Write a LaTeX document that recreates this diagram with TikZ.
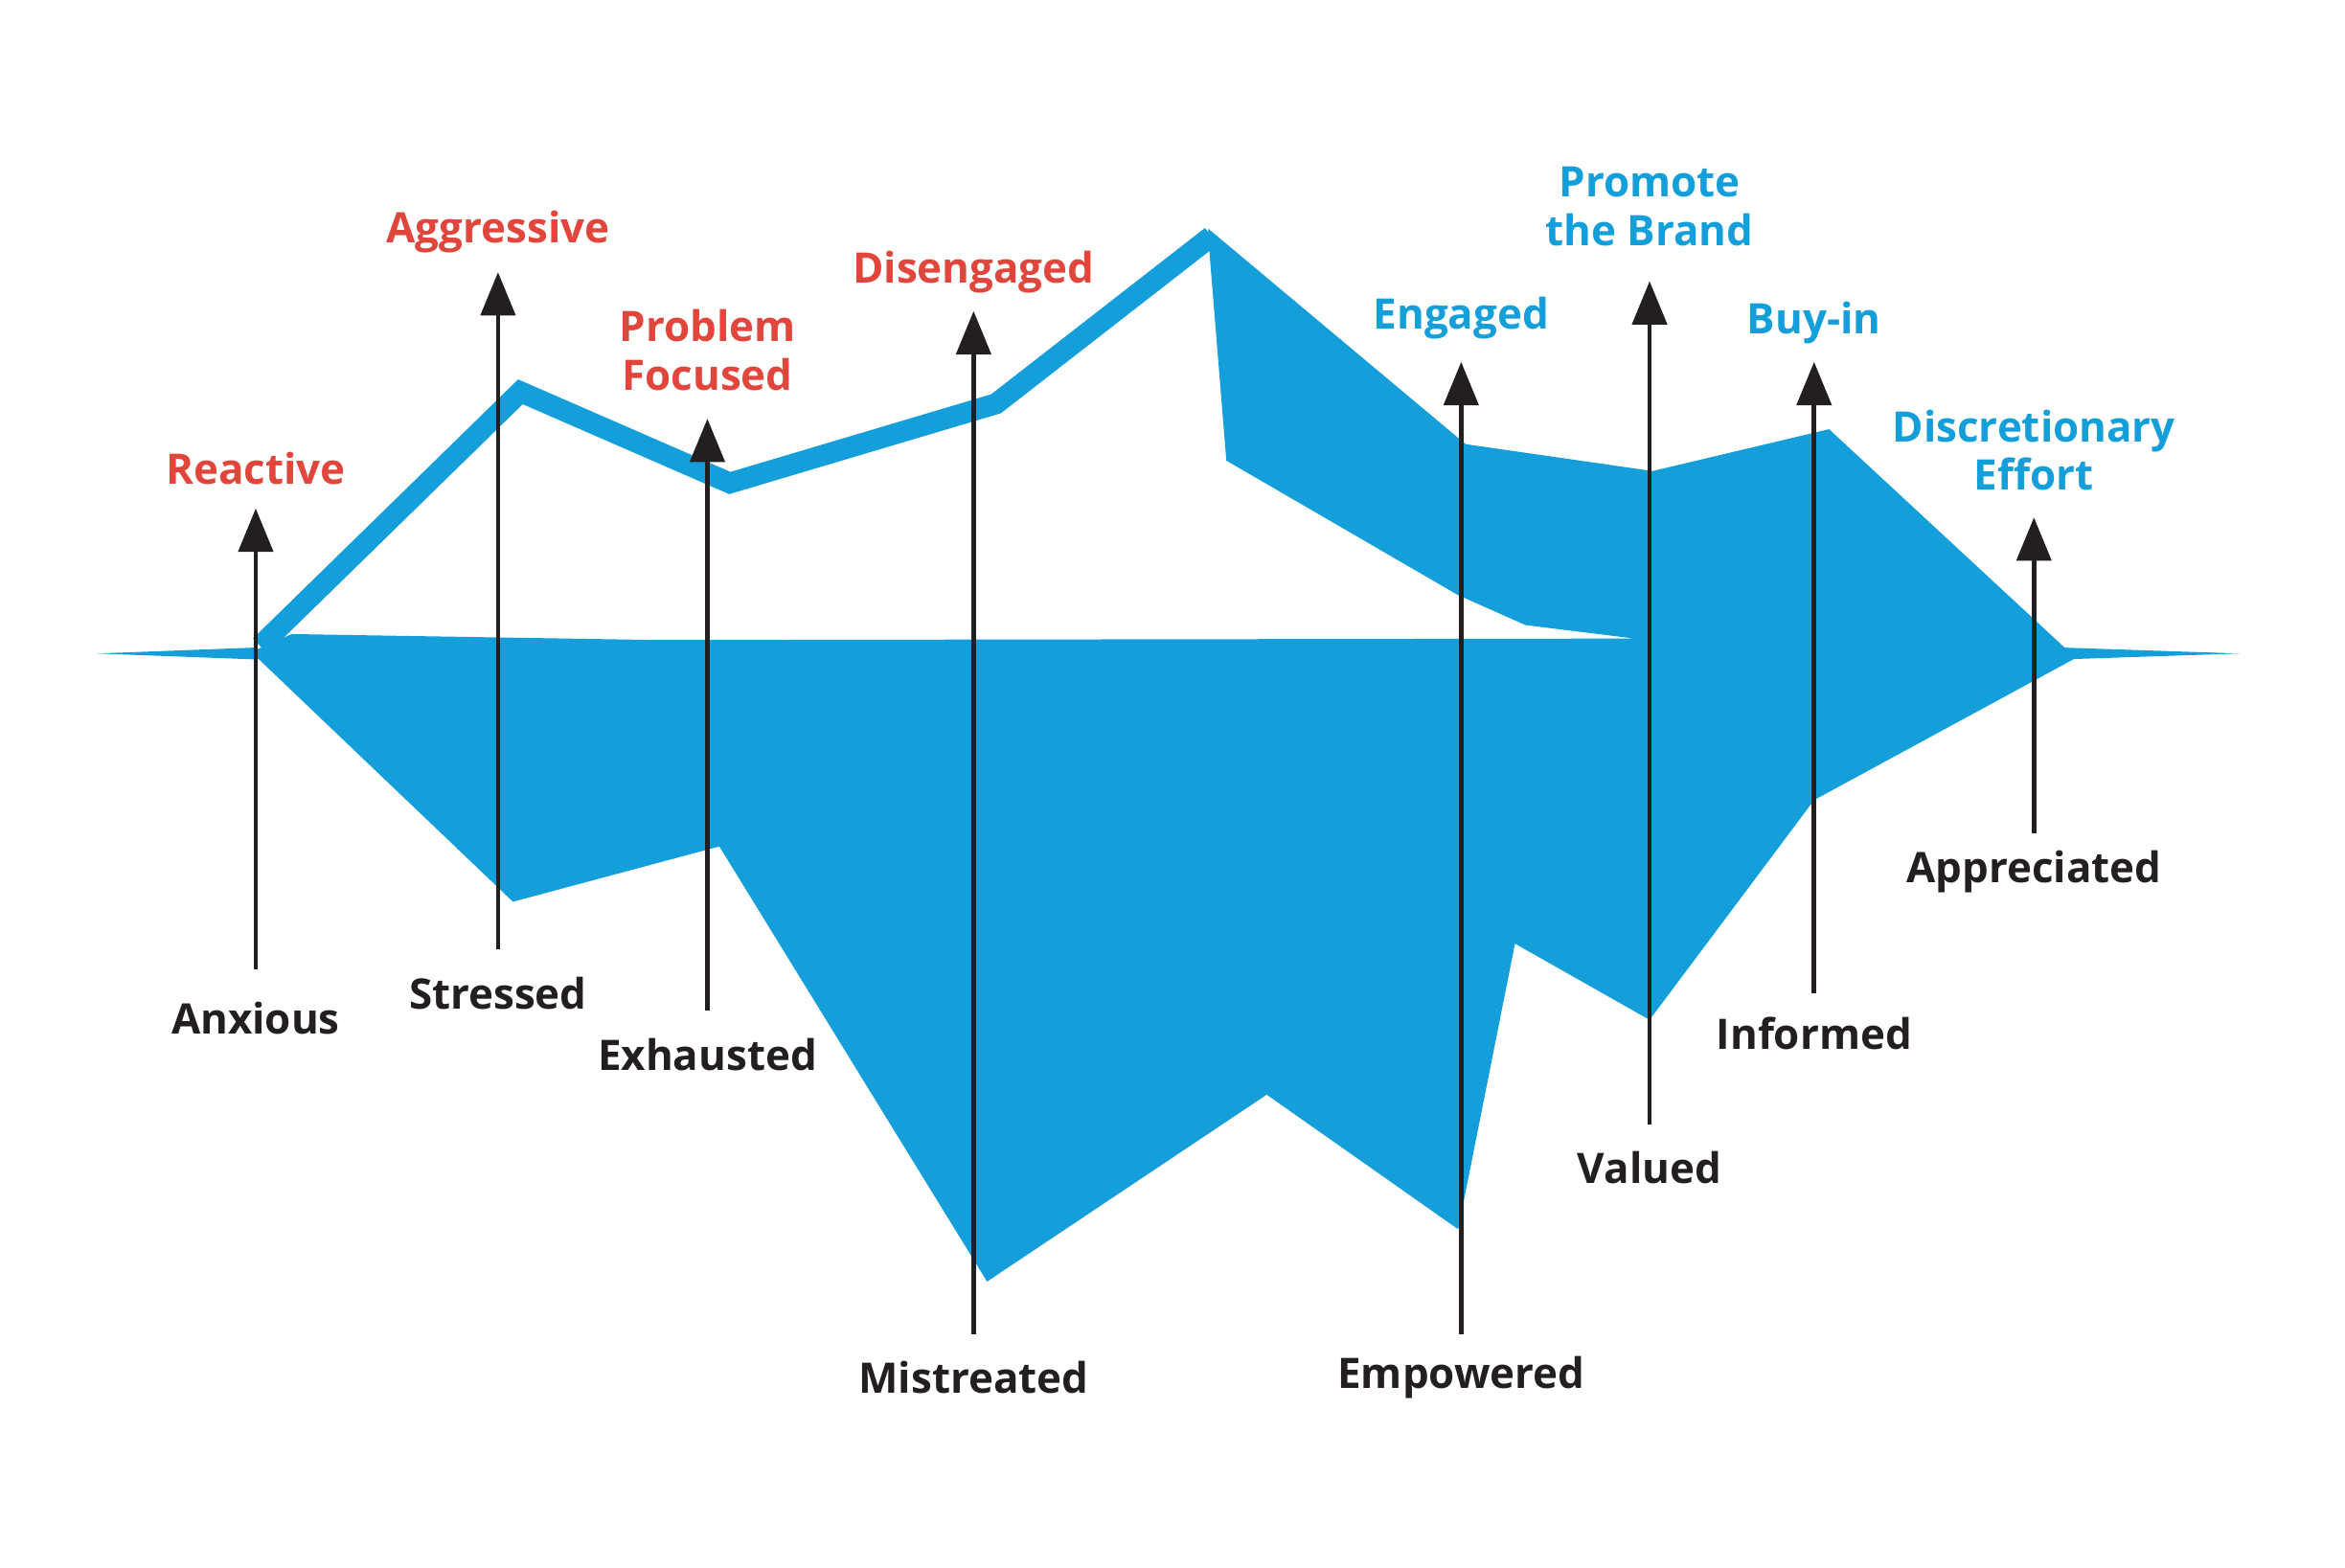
\documentclass[tikz,border=0pt]{standalone}
\usepackage{fontspec}
\setmainfont{Open Sans}
\usetikzlibrary{arrows.meta}
\definecolor{ice}{HTML}{149FDA}
\definecolor{redl}{HTML}{E0463C}
\definecolor{ink}{HTML}{231F20}
\begin{document}
\begin{tikzpicture}[x=0.05cm,y=-0.05cm,
  lab/.style={font=\fontsize{40}{50}\selectfont\bfseries, align=center, inner sep=0pt},
  red/.style={lab, text=redl}, blue/.style={lab, text=ice}, black/.style={lab, text=ink},
  arr/.style={draw=ink, line width=0.15cm, -{Triangle[width=1.15cm,length=1.45cm]}}]
\useasboundingbox (0,0) rectangle (1568,1048);
% water line spikes
\fill[ice] (65,437) -- (172,433) -- (172,441) -- cycle;
\fill[ice] (1497,437) -- (1378,433) -- (1378,441) -- cycle;
% iceberg body
\fill[ice] (168,436) -- (195,424) -- (440,428) -- (1093,427) -- (1020,418) -- (975,398) -- (820,308) -- (808,160)
  -- (808,153) -- (980,297) -- (1105,315) -- (1223,287) -- (1388,440) -- (1213,535) -- (1103,682)
  -- (1013,631) -- (975,822) -- (847,732) -- (660,857) -- (481,566) -- (343,603) -- cycle;
% outline above water
\draw[ice, line width=0.7cm, line join=miter] (174,432) -- (348,262) -- (488,323) -- (666,270) -- (810,158);
% labels
\node[red] (reac) at (171,313) {Reactive};
\node[red] (aggr) at (333,155) {Aggressive};
\node[red] (prob) at (473,234) {Problem\\[-4pt]Focused};
\node[red] (dise) at (651,182) {Disengaged};
\node[blue] (enga) at (977,213) {Engaged};
\node[blue] (prom) at (1103,138) {Promote\\[-4pt]the Brand};
\node[blue] (buyi) at (1213,216) {Buy-in};
\node[blue] (disc) at (1360,301) {Discretionary\\[-4pt]Effort};
\node[black] (anx) at (171,681) {Anxious};
\node[black] (str) at (333,664) {Stressed};
\node[black] (exh) at (473,705) {Exhausted};
\node[black] (mis) at (651,921) {Mistreated};
\node[black] (emp) at (977,921) {Empowered};
\node[black] (val) at (1103,781) {Valued};
\node[black] (inf) at (1213,691) {Informed};
\node[black] (app) at (1360,583) {Appreciated};
% arrows
\coordinate (a1) at (171,648); \coordinate (b1) at (171,340);
\coordinate (a2) at (333,635); \coordinate (b2) at (333,182);
\coordinate (a3) at (473,676); \coordinate (b3) at (473,280);
\coordinate (a4) at (651,892); \coordinate (b4) at (651,208);
\coordinate (a5) at (977,892); \coordinate (b5) at (977,242);
\coordinate (a6) at (1103,752); \coordinate (b6) at (1103,188);
\coordinate (a7) at (1213,664); \coordinate (b7) at (1213,242);
\coordinate (a8) at (1360,557); \coordinate (b8) at (1360,346);
\foreach \i in {1,...,8} \draw[arr] (a\i) -- (b\i);
\end{tikzpicture}
\end{document}
